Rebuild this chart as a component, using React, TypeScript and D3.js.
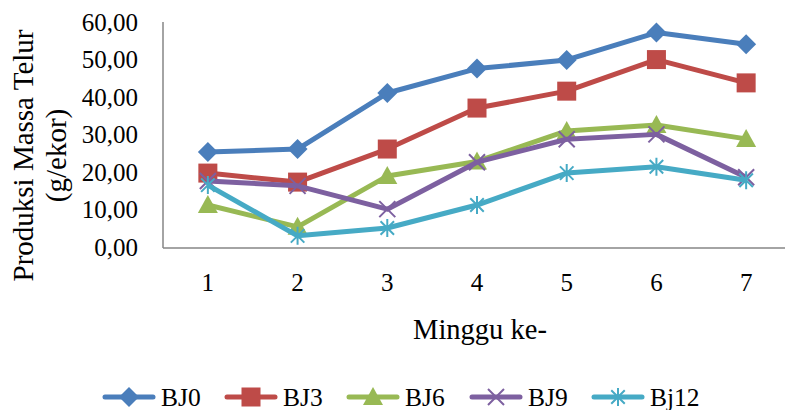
import React from "react";
import * as d3 from "d3";

const weeks = ["1", "2", "3", "4", "5", "6", "7"];
const yTicks = [0, 10, 20, 30, 40, 50, 60];
const seriesNames = ["BJ0", "BJ3", "BJ6", "BJ9", "Bj12"];
const bj0 = [25.4, 26.2, 41.1, 47.6, 49.9, 57.2, 54.1];
const bj3 = [19.8, 17.4, 26.2, 37.1, 41.6, 50.0, 43.8];
const bj6 = [11.3, 5.5, 19.0, 22.9, 31.0, 32.6, 28.9];
const bj9 = [17.7, 16.4, 10.2, 22.7, 28.8, 30.1, 18.7];
const bj12 = [16.6, 3.1, 5.2, 11.3, 19.8, 21.5, 17.9];
const colors = ["#4A7EBB", "#BE4B48", "#98B954", "#7D60A0", "#46AAC5"];
const markers = ["diamond", "square", "triangle", "x", "star"];

const W = 785;
const H = 410;
const FONT = "'Liberation Serif', 'Times New Roman', serif";

function Marker({ type, x, y, color }: { type: string; x: number; y: number; color: string }) {
  if (type === "diamond") {
    const r = 10;
    return <path d={`M${x},${y - r}L${x + r},${y}L${x},${y + r}L${x - r},${y}Z`} fill={color} />;
  }
  if (type === "square") {
    const r = 9.5;
    return <rect x={x - r} y={y - r} width={2 * r} height={2 * r} fill={color} />;
  }
  if (type === "triangle") {
    const r = 10;
    return <path d={`M${x},${y - r}L${x + r},${y + r * 0.8}L${x - r},${y + r * 0.8}Z`} fill={color} />;
  }
  if (type === "x") {
    const r = 8;
    return (
      <path
        d={`M${x - r},${y - r}L${x + r},${y + r}M${x - r},${y + r}L${x + r},${y - r}`}
        stroke={color}
        strokeWidth={2}
      />
    );
  }
  const r = 9;
  return (
    <path
      d={`M${x - r * 0.75},${y - r * 0.75}L${x + r * 0.75},${y + r * 0.75}M${x - r * 0.75},${y + r * 0.75}L${x + r * 0.75},${y - r * 0.75}M${x},${y - r}L${x},${y + r}`}
      stroke={color}
      strokeWidth={2}
    />
  );
}

export default function App() {
  const data = [bj0, bj3, bj6, bj9, bj12];
  const x = d3.scaleBand<string>().domain(weeks).range([163, 791]);
  const y = d3.scaleLinear().domain([0, 60]).range([247.5, 22]);
  const cx = (w: string) => (x(w) ?? 0) + x.bandwidth() / 2;
  const line = d3
    .line<number>()
    .x((_, i) => cx(weeks[i]))
    .y((v) => y(v));

  const legendX = [103, 225, 347, 470, 592];
  const legendY = 397;

  return (
    <svg
      width={W}
      height={H}
      style={{ position: "absolute", left: 0, top: 0, background: "#fff" }}
      fontFamily={FONT}
    >
      <rect width={W} height={H} fill="#fff" />
      {/* axes */}
      <line x1={163} x2={163} y1={22} y2={248} stroke="#868686" strokeWidth={1.5} />
      <line x1={163} x2={W} y1={248} y2={248} stroke="#868686" strokeWidth={1.5} />
      {yTicks.map((t) => (
        <text key={t} x={138} y={y(t) + 8.5} textAnchor="end" fontSize={25} fill="#000">
          {d3.format(".2f")(t).replace(".", ",")}
        </text>
      ))}
      {weeks.map((w) => (
        <text key={w} x={cx(w)} y={291} textAnchor="middle" fontSize={25} fill="#000">
          {w}
        </text>
      ))}
      <text x={480} y={339} textAnchor="middle" fontSize={28.5} fill="#000">
        Minggu ke-
      </text>
      <g transform="translate(0,155.5) rotate(-90)">
        <text x={0} y={33} textAnchor="middle" fontSize={29} fill="#000">
          Produksi Massa Telur
        </text>
        <text x={0} y={66} textAnchor="middle" fontSize={29} fill="#000">
          (g/ekor)
        </text>
      </g>
      {/* series */}
      {data.map((vals, si) => (
        <g key={seriesNames[si]}>
          <path d={line(vals) ?? ""} fill="none" stroke={colors[si]} strokeWidth={5} strokeLinejoin="round" />
          {vals.map((v, i) => (
            <Marker key={i} type={markers[si]} x={cx(weeks[i])} y={y(v)} color={colors[si]} />
          ))}
        </g>
      ))}
      {/* legend */}
      {seriesNames.map((n, si) => (
        <g key={n}>
          <line
            x1={legendX[si] + 2}
            x2={legendX[si] + 50}
            y1={legendY}
            y2={legendY}
            stroke={colors[si]}
            strokeWidth={5}
            strokeLinecap="round"
          />
          <Marker type={markers[si]} x={legendX[si] + 26} y={legendY} color={colors[si]} />
          <text x={legendX[si] + 58} y={legendY + 8.5} fontSize={25.5} fill="#000">
            {n}
          </text>
        </g>
      ))}
    </svg>
  );
}
